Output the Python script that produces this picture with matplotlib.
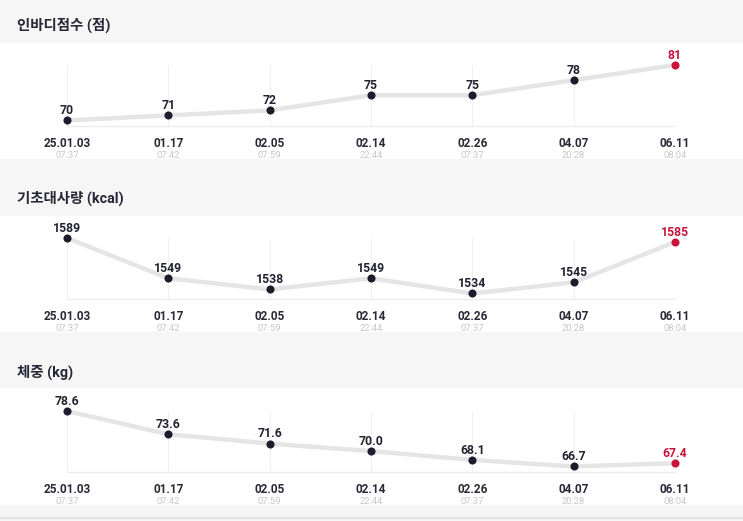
import matplotlib
matplotlib.use("Agg")
import matplotlib.pyplot as plt
from matplotlib.patches import Rectangle

plt.rcParams['font.family'] = ['Roboto', 'Noto Sans CJK KR', 'DejaVu Sans']

dates = ["25.01.03", "01.17", "02.05", "02.14", "02.26", "04.07", "06.11"]
times = ["07:37", "07:42", "07:59", "22:44", "07:37", "20:28", "08:04"]

titles = ["인바디점수 (점)", "기초대사량 (kcal)", "체중 (kg)"]
score = [70, 71, 72, 75, 75, 78, 81]
bmr = [1589, 1549, 1538, 1549, 1534, 1545, 1585]
weight = [78.6, 73.6, 71.6, 70.0, 68.1, 66.7, 67.4]
labels_score = ["70", "71", "72", "75", "75", "78", "81"]
labels_bmr = ["1589", "1549", "1538", "1549", "1534", "1545", "1585"]
labels_weight = ["78.6", "73.6", "71.6", "70.0", "68.1", "66.7", "67.4"]

W, H = 743, 521
fig = plt.figure(figsize=(W / 100, H / 100), dpi=100)
fig.patch.set_facecolor('#f6f6f6')

def fy(py):
    return 1 - py / H

# layout in pixels: (title_y, white_top, white_bottom, axes_top, axes_bottom)
layout = [
    (25, 43, 159, 65, 126),
    (198, 216, 332, 238, 299),
    (372, 388, 505, 411, 472),
]
series = [(score, labels_score), (bmr, labels_bmr), (weight, labels_weight)]

dark = '#1c1c2c'
red = '#c8143c'
x = list(range(len(dates)))

for (ty, wt, wb, at, ab), title, (vals, labs) in zip(layout, titles, series):
    fig.patches.append(Rectangle((0, fy(wb)), 1, (wb - wt) / H, transform=fig.transFigure,
                                 facecolor='white', edgecolor='none', zorder=-10))
    fig.text(17 / W, fy(ty), title, va='center', ha='left', fontsize=10.4,
             fontweight='bold', color='#262636')
    ax = fig.add_axes([67 / W, fy(ab), (675 - 67) / W, (ab - at) / H])
    ax.set_zorder(1)
    ax.set_facecolor('none')
    for s in ax.spines.values():
        s.set_visible(False)
    ax.set_xticks([])
    ax.set_yticks([])
    mn, mx = min(vals), max(vals)
    ax.set_xlim(0, len(dates) - 1)
    ax.set_ylim(mn - 0.1 * (mx - mn), mx)
    ax.vlines(x, 0, 1, transform=ax.get_xaxis_transform(), color='#f0f0f0', lw=0.8, zorder=1)
    ax.axhline(ax.get_ylim()[0], color='#ececec', lw=1.0, zorder=1, clip_on=False)
    ax.plot(x, vals, color='#e5e5e5', lw=3.2, solid_capstyle='round', zorder=2, clip_on=False)
    ax.scatter(x[:-1], vals[:-1], s=34, color=dark, zorder=3, clip_on=False, linewidths=0)
    ax.scatter(x[-1:], vals[-1:], s=34, color=red, zorder=3, clip_on=False, linewidths=0)
    for i, (v, lab) in enumerate(zip(vals, labs)):
        c = red if i == len(vals) - 1 else '#222230'
        ax.annotate(lab, (i, v), xytext=(0, 4.5), textcoords='offset points',
                    ha='center', va='baseline', fontsize=8.8, fontweight='bold',
                    color=c, annotation_clip=False)
        ax.annotate(dates[i], (i, 0), xycoords=('data', 'axes fraction'),
                    xytext=(0, -12.5), textcoords='offset points', ha='center',
                    va='center', fontsize=8.5, fontweight='bold', color='#2a2a36',
                    annotation_clip=False)
        ax.annotate(times[i], (i, 0), xycoords=('data', 'axes fraction'),
                    xytext=(0, -21.5), textcoords='offset points', ha='center',
                    va='center', fontsize=6.8, color='#c8c8c8',
                    annotation_clip=False)

fig.lines.append(plt.Line2D([0, 1], [fy(518), fy(518)], transform=fig.transFigure,
                            color='#e2e2e2', lw=1.5))

fig.savefig('out.png', dpi=100, facecolor=fig.get_facecolor())
